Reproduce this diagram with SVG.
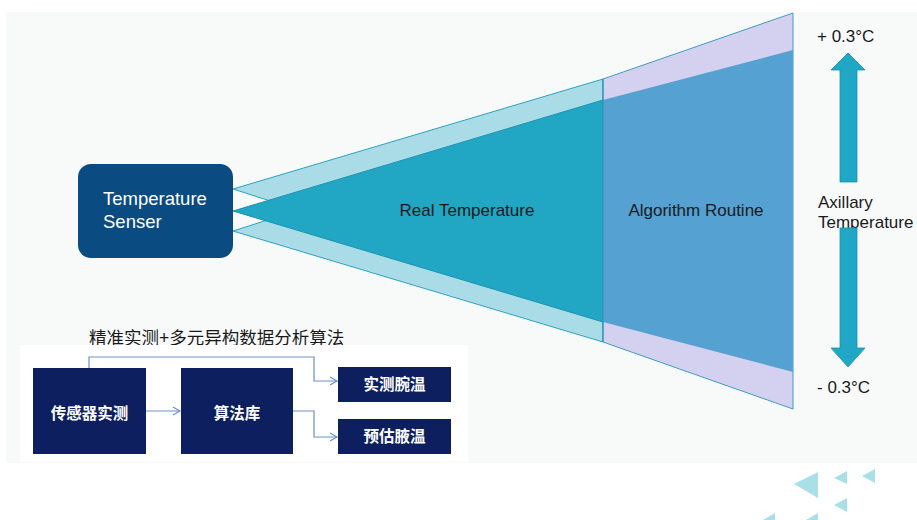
<svg xmlns="http://www.w3.org/2000/svg" width="917" height="520" viewBox="0 0 917 520">
<style>
.en{font-family:"Liberation Sans",Arial,sans-serif;}
.cn{font-family:"Liberation Sans","Noto Sans CJK SC",sans-serif;}
.lbl{font-size:17px;fill:#1a1a1a;}
.side{font-size:17px;fill:#1a1a1a;}
.navy{fill:#0d1f5e;}
.boxt{font-size:15.5px;font-weight:bold;fill:#ffffff;text-anchor:middle;}
.conn{fill:none;stroke:#6c8fc7;stroke-width:1.2;}
.deco{fill:#a9dfe6;}
</style>
<defs>
<marker id="ah" markerWidth="10" markerHeight="10" refX="8" refY="5" orient="auto" markerUnits="userSpaceOnUse">
<path d="M1,1 L8,5 L1,9" fill="none" stroke="#6c8fc7" stroke-width="1.2"/>
</marker>
</defs>
<rect x="0" y="0" width="917" height="520" fill="#ffffff"/>
<rect x="6" y="12" width="911" height="451" fill="#f8fafa"/>

<g id="cone">
<polygon points="233,189 603,79 603,308" fill="#a9dce7" stroke="#2aa3c3" stroke-width="1"/>
<polygon points="233,231 603,342 603,113" fill="#a9dce7" stroke="#2aa3c3" stroke-width="1"/>
<polygon points="233,211 603,100 603,322" fill="#21a6c3" stroke="#1c94b0" stroke-width="1"/>
<polygon points="603,79 793,13 793,409 603,342" fill="#d3d0f0" stroke="#3f9cc4" stroke-width="1"/>
<polygon points="603,100 793,50 793,372 603,322" fill="#55a1d2"/>
<line x1="603" y1="79" x2="603" y2="342" stroke="#2a8fae" stroke-width="1"/>
<text class="en lbl" x="467" y="216" text-anchor="middle">Real Temperature</text>
<text class="en lbl" x="696" y="216" text-anchor="middle">Algorithm Routine</text>
</g>

<g id="sensor">
<rect x="78" y="164" width="155" height="94" rx="13" fill="#0a4b82"/>
<text class="en" x="103" y="205" font-size="18.5" fill="#ffffff">Temperature</text>
<text class="en" x="103" y="228" font-size="18.5" fill="#ffffff">Senser</text>
</g>

<g id="axillary">
<text class="en side" x="817" y="42">+ 0.3°C</text>
<polygon points="848,53 865,70 857,70 857,182 840,182 840,70 831,70" fill="#20a7c5" stroke="#1a92ad" stroke-width="0.8"/>
<text class="en side" x="818" y="208">Axillary</text>
<text class="en side" x="818" y="228">Temperature</text>
<polygon points="840,228 857,228 857,348 865,348 848,367 831,348 840,348" fill="#20a7c5" stroke="#1a92ad" stroke-width="0.8"/>
<text class="en side" x="817" y="393">- 0.3°C</text>
</g>

<g id="flow">
<text class="cn" x="89" y="344" font-size="17.5" fill="#1a1a1a">精准实测+多元异构数据分析算法</text>
<rect x="20" y="345" width="448" height="117" fill="#ffffff"/>
</g>

<g id="n1"><rect class="navy" x="33" y="368" width="113" height="86"/><text class="cn boxt" x="89.5" y="419">传感器实测</text></g>
<g id="n2"><rect class="navy" x="181" y="368" width="112" height="86"/><text class="cn boxt" x="237" y="419">算法库</text></g>
<g id="n3"><rect class="navy" x="338" y="367" width="113" height="35"/><text class="cn boxt" x="394.5" y="390">实测腕温</text></g>
<g id="n4"><rect class="navy" x="338" y="419" width="113" height="35"/><text class="cn boxt" x="394.5" y="442">预估腋温</text></g>

<g id="connectors">
<polyline class="conn" points="89,368 89,357 314,357 314,381 337,381" marker-end="url(#ah)"/>
<polyline class="conn" points="146,411 180,411" marker-end="url(#ah)"/>
<polyline class="conn" points="293,411 314,411 314,437 337,437" marker-end="url(#ah)"/>
</g>

<g id="decor">
<polygon class="deco" points="794,484 818,472 818,498"/>
<polygon class="deco" points="834,478 847,471 847,484"/>
<polygon class="deco" points="862,476 875,469 875,483"/>
<polygon class="deco" points="834,505 847,498 847,512"/>
<polygon class="deco" points="763,520 775,513 775,527"/>
<polygon class="deco" points="806,520 818,513 818,527"/>
</g>
</svg>
